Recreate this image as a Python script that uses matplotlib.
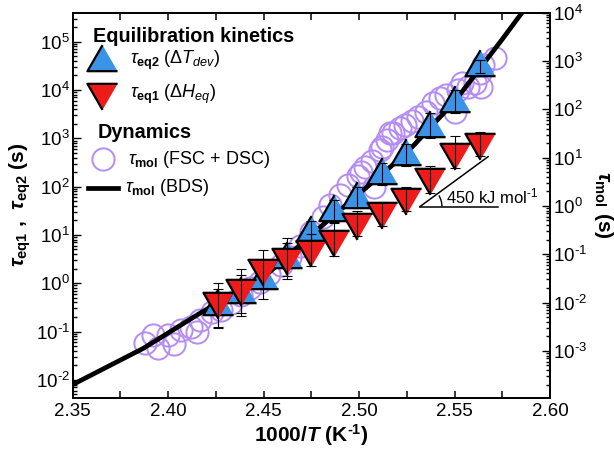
import matplotlib
matplotlib.use("Agg")
import matplotlib.pyplot as plt
import numpy as np
from matplotlib.patches import Arc
from matplotlib.ticker import LogLocator, NullFormatter, MultipleLocator, FuncFormatter

plt.rcParams['font.family'] = ['Liberation Sans', 'DejaVu Sans']
plt.rcParams['mathtext.fontset'] = 'custom'
plt.rcParams['mathtext.rm'] = 'Liberation Sans'
plt.rcParams['mathtext.it'] = 'Liberation Sans:italic'
plt.rcParams['mathtext.bf'] = 'Liberation Sans:bold'
plt.rcParams['mathtext.bfit'] = 'Liberation Sans:italic:bold'

# equilibration times (s) vs 1000/T
inv_T = [2.4261, 2.4380, 2.4498, 2.4625, 2.4747, 2.4867, 2.4990, 2.5120,
         2.5244, 2.5373, 2.5503, 2.5632]
tau_eq2 = [0.34, 0.60, 1.19, 3.1, 11, 30, 56, 172, 427, 1640, 5370, 29500]
tau_eq1 = [0.43, 0.79, 2.07, 3.5, 5.2, 8.3, 18.6, 31, 62, 158, 525, 840]
# error bars in decades (down, up)
eq2_err_dn = [0.45, 0.45, 0.40, 0.35, 0.20, 0.20, 0.20, 0.20, 0.20, 0.20, 0.20, 0.12]
eq2_err_up = [0.35, 0.40, 0.40, 0.35, 0.25, 0.25, 0.25, 0.25, 0.25, 0.30, 0.28, 0.15]
eq1_err_dn = [0.54, 0.51, 0.41, 0.46, 0.35, 0.35, 0.30, 0.30, 0.30, 0.33, 0.33, 0.30]
eq1_err_up = [0.37, 0.39, 0.37, 0.40, 0.30, 0.32, 0.23, 0.18, 0.20, 0.23, 0.33, 0.20]

# tau_mol from FSC + DSC (log10 s, right axis)
fsc_inv_T = [2.388, 2.392, 2.395, 2.400, 2.403, 2.407, 2.412, 2.415, 2.417, 2.423,
             2.428, 2.433, 2.438, 2.443, 2.448, 2.453, 2.459, 2.464, 2.469, 2.475,
             2.481, 2.485, 2.490, 2.494, 2.4996, 2.5013, 2.5031, 2.5066, 2.508, 2.5109,
             2.5118, 2.5144, 2.5161, 2.5179, 2.5214, 2.5240, 2.5275, 2.5310, 2.5353, 2.5388,
             2.5423, 2.5458, 2.5502, 2.5519, 2.5537, 2.5571, 2.5606, 2.5641, 2.5632, 2.5650,
             2.5711]
fsc_log_tau = [-2.84, -2.67, -2.95, -2.67, -2.85, -2.57, -2.50, -2.60, -2.36, -2.19,
               -2.15, -2.00, -1.85, -1.70, -1.58, -1.40, -1.22, -1.05, -0.82, -0.55,
               -0.22, 0.02, 0.23, 0.43, 0.61, 0.71, 0.81, 0.92, 0.40, 1.16,
               1.23, 1.37, 1.51, 1.51, 1.61, 1.68, 1.75, 1.85, 1.95, 2.13,
               2.23, 2.30, 1.95, 2.40, 2.54, 2.47, 2.54, 2.47, 2.75, 2.92,
               3.06]

# tau_mol from BDS (log10 s, right axis)
bds_inv_T = [2.350, 2.387, 2.418, 2.450, 2.475, 2.500, 2.525, 2.550, 2.575, 2.590]
bds_log_tau = [-3.70, -2.95, -2.19, -1.48, -0.60, 0.25, 1.10, 2.16, 3.45, 4.25]

blue = '#3a93e6'
red = '#ee1b1b'
lavender = '#b48cf2'
HY = '\u2010'  # short hyphen used for negative exponents

W, H = 614, 453
fig = plt.figure(figsize=(W / 100, H / 100), dpi=100)
ax = fig.add_axes([72.5 / W, 1 - 397.7 / H, 477.5 / W, 385 / H])
ax2 = ax.twinx()
ax.set_zorder(ax2.get_zorder() + 1)
ax.patch.set_visible(False)

tri_up = [(0, 1), (-0.867, -0.5), (0.867, -0.5)]
tri_dn = [(0, -1), (-0.867, 0.5), (0.867, 0.5)]

# dynamics on the right axis
ax2.plot(fsc_inv_T, 10 ** np.array(fsc_log_tau), 'o', ms=16, mfc='none',
         mec=lavender, mew=1.4, zorder=2)
ax2.plot(bds_inv_T, 10 ** np.array(bds_log_tau), '-', color='black', lw=3.4, zorder=3)

# equilibration on the left axis
def errs(vals, dn, up):
    v = np.array(vals)
    return [v - v / 10 ** np.array(dn), v * 10 ** np.array(up) - v]

ax.plot(inv_T, tau_eq2, ls='none', marker=tri_up, ms=25, mfc=blue, mec='black',
        mew=1.6, zorder=3)
ax.errorbar(inv_T, tau_eq2, yerr=errs(tau_eq2, eq2_err_dn, eq2_err_up), fmt='none',
            ecolor='black', elinewidth=0.8, capsize=3.5, capthick=0.8, zorder=3.1)
ax.plot(inv_T, tau_eq1, ls='none', marker=tri_dn, ms=25, mfc=red, mec='black',
        mew=1.6, zorder=4)
ax.errorbar(inv_T, tau_eq1, yerr=errs(tau_eq1, eq1_err_dn, eq1_err_up), fmt='none',
            ecolor='black', elinewidth=0.8, capsize=3.5, capthick=0.8, zorder=4.1)

ax.set_xlim(2.35, 2.60)
ax.set_yscale('log')
ax2.set_yscale('log')
ax.set_ylim(10 ** -2.37, 10 ** 5.60)
ax2.set_ylim(10 ** -3.97, 10 ** 4.0)


def pow_label(v, pos):
    e = int(round(np.log10(v)))
    s = str(e).replace('-', HY)
    return '10$^{\\mathregular{%s}}$' % s


ax.xaxis.set_major_locator(MultipleLocator(0.05))
ax.xaxis.set_minor_locator(MultipleLocator(0.025))
ax.xaxis.set_major_formatter(matplotlib.ticker.FormatStrFormatter('%.2f'))
for a in (ax, ax2):
    a.yaxis.set_major_locator(LogLocator(base=10, numticks=20))
    a.yaxis.set_minor_locator(LogLocator(base=10, subs=np.arange(2, 10), numticks=20))
    a.yaxis.set_major_formatter(FuncFormatter(pow_label))
    a.yaxis.set_minor_formatter(NullFormatter())
    for s in a.spines.values():
        s.set_linewidth(1.3)

ax.tick_params(axis='x', which='both', direction='in', top=True, labelsize=13.5, width=1.1)
ax.tick_params(axis='x', which='major', length=5)
ax.tick_params(axis='x', which='minor', length=5)
ax.tick_params(axis='y', which='both', direction='in', right=False, labelsize=13.5, width=1.0)
ax.tick_params(axis='y', which='major', length=6)
ax.tick_params(axis='y', which='minor', length=3)
ax2.tick_params(axis='y', which='both', direction='in', labelsize=13.5, width=1.0, pad=2)
ax2.tick_params(axis='y', which='major', length=6)
ax2.tick_params(axis='y', which='minor', length=3)
ax.tick_params(axis='y', pad=2)

ax.set_xlabel('1000/$\\mathbfit{T}$ (K$^{\\mathbf{%s1}}$)' % HY, fontsize=15,
              fontweight='bold', labelpad=2)
ax.set_ylabel(r'$\mathbfit{\tau}_{\mathbf{eq1}}$ ,  $\mathbfit{\tau}_{\mathbf{eq2}}$ (s)',
              fontsize=15, fontweight='bold', labelpad=2)
ax2.set_ylabel(r'$\mathbfit{\tau}_{\mathbf{mol}}$ (s)', fontsize=15, fontweight='bold',
               rotation=270, labelpad=20)

# slope guide, 450 kJ/mol
slope_x = [2.5319, 2.5676]
slope_y = [10 ** 1.586, 10 ** 2.62]
ax.plot(slope_x, slope_y, color='black', lw=1.1, zorder=5)
ax.plot([slope_x[0], 2.5728], [slope_y[0], slope_y[0]], color='black', lw=1.1, zorder=5)
fig.canvas.draw()
vx, vy = (ax.transData + ax.transAxes.inverted()).transform((slope_x[0], slope_y[0]))
ax.add_patch(Arc((vx, vy), 44 / 477.5, 44 / 385, theta1=0, theta2=36,
                 transform=ax.transAxes, color='black', lw=1.0, zorder=5))
ax.text(2.5458, 10 ** 1.645, '450 kJ mol$^{\\mathregular{%s1}}$' % HY, fontsize=12,
        va='baseline', ha='left', zorder=6)

# legend drawn by hand
def fx(px):
    return px / W

def fy(py):
    return 1 - py / H

fig.text(fx(93), fy(36), 'Equilibration kinetics', fontsize=14.3, fontweight='bold',
         va='center')
fig.lines.append(plt.Line2D([fx(102)], [fy(62)], ls='none', marker=tri_up, ms=25, mfc=blue,
                            mec='black', mew=1.6, transform=fig.transFigure))
fig.text(fx(130), fy(60), r'$\tau_{\mathbf{eq2}}$ ($\mathit{\Delta T}_{\mathit{dev}}$)',
         fontsize=13, va='center')
fig.lines.append(plt.Line2D([fx(102)], [fy(92)], ls='none', marker=tri_dn, ms=25, mfc=red,
                            mec='black', mew=1.6, transform=fig.transFigure))
fig.text(fx(130), fy(94), r'$\tau_{\mathbf{eq1}}$ ($\mathit{\Delta H}_{\mathit{eq}}$)',
         fontsize=13, va='center')
fig.text(fx(98), fy(133), 'Dynamics', fontsize=14.3, fontweight='bold', va='center')
fig.lines.append(plt.Line2D([fx(103)], [fy(159)], ls='none', marker='o', ms=16, mfc='none',
                            mec=lavender, mew=1.4, transform=fig.transFigure))
fig.text(fx(128), fy(159), r'$\tau_{\mathbf{mol}}$ (FSC + DSC)', fontsize=13, va='center')
fig.lines.append(plt.Line2D([fx(88), fx(118)], [fy(188), fy(188)], color='black', lw=3.4,
                            transform=fig.transFigure))
fig.text(fx(125), fy(188), r'$\tau_{\mathbf{mol}}$ (BDS)', fontsize=13, va='center')

fig.savefig('out.png', dpi=100)
